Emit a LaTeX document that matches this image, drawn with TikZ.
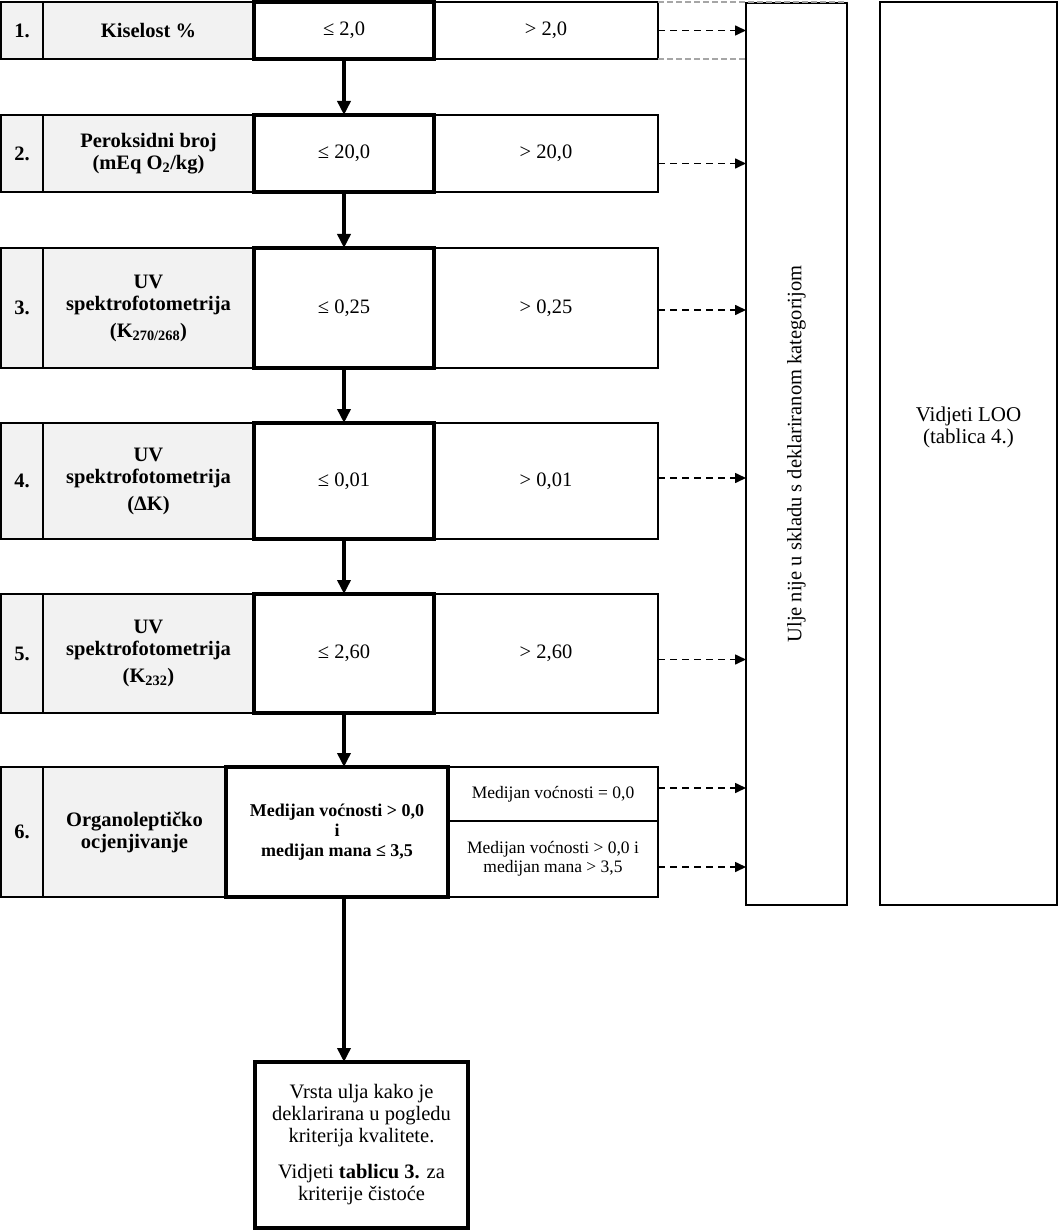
\documentclass[tikz,border=0pt]{standalone}
\usepackage{fontspec}
\setmainfont{Liberation Serif}
\usetikzlibrary{arrows.meta, positioning, calc}
\definecolor{labfill}{HTML}{F2F2F2}

\begin{document}
\begin{tikzpicture}[
  x=1pt, y=-1pt,
  every node/.style={font=\fontsize{20.5}{22}\selectfont, inner sep=0pt,
                     outer sep=0pt, align=center},
  cell/.style={draw, anchor=north west, line width=2pt},
  numbox/.style={cell, fill=labfill, font=\fontsize{20.5}{22}\selectfont\bfseries,
                 minimum width=42pt},
  labbox/.style={cell, fill=labfill, font=\fontsize{20.5}{22}\selectfont\bfseries},
  passbox/.style={cell, line width=4pt},
  failbox/.style={cell},
  smalltxt/.style={font=\fontsize{17.5}{19.5}\selectfont},
  sidebox/.style={draw, anchor=north west, line width=2.5pt},
  downarr/.style={-{Triangle[length=14pt,width=13pt]}, line width=4pt},
  outarr/.style={-{Triangle[length=11pt,width=10pt]}, line width=1.6pt,
                 dash pattern=on 7pt off 5pt},
  tabedge/.style={gray!70, line width=1.5pt, dash pattern=on 6pt off 3pt}
]
\useasboundingbox (0,0) rectangle (1059,1230);

% right-hand outcome boxes
\node[sidebox, minimum width=101pt, minimum height=902pt] (ulje) at (746,3) {};
\node[rotate=90] (uljetxt) at (ulje.center) {Ulje nije u skladu s deklariranom kategorijom};
\node[sidebox, minimum width=177pt, minimum height=903pt] (loo) at (880,2) {};
\node[font=\fontsize{21}{22}\selectfont] (lootxt) at ([yshift=26pt]loo.center) {Vidjeti LOO\\(tablica 4.)};

% 1. kiselost
\node[numbox, minimum height=57pt] (n1) at (1,2) {1.};
\node[labbox, minimum width=211pt, minimum height=57pt] (l1) at (n1.north east) {Kiselost \%};
\node[passbox, minimum width=180pt, minimum height=57pt] (p1) at (l1.north east) {≤ 2,0};
\node[failbox, minimum width=224pt, minimum height=57pt] (f1) at (p1.north east) {> 2,0};

% 2. peroksidni broj
\node[numbox, minimum height=77pt] (n2) at (1,115) {2.};
\node[labbox, minimum width=211pt, minimum height=77pt] (l2) at (n2.north east) {Peroksidni broj\\(mEq O\textsubscript{2}/kg)};
\node[passbox, minimum width=180pt, minimum height=77pt] (p2) at (l2.north east) {≤ 20,0};
\node[failbox, minimum width=224pt, minimum height=77pt] (f2) at (p2.north east) {> 20,0};

% 3. K270
\node[numbox, minimum height=120pt] (n3) at (1,248) {3.};
\node[labbox, minimum width=211pt, minimum height=120pt] (l3) at (n3.north east) {UV\\spektrofotometrija\\[5pt](K\textsubscript{270/268})};
\node[passbox, minimum width=180pt, minimum height=120pt] (p3) at (l3.north east) {≤ 0,25};
\node[failbox, minimum width=224pt, minimum height=120pt] (f3) at (p3.north east) {> 0,25};

% 4. delta K
\node[numbox, minimum height=116pt] (n4) at (1,423) {4.};
\node[labbox, minimum width=211pt, minimum height=116pt] (l4) at (n4.north east) {UV\\spektrofotometrija\\[5pt](ΔK)};
\node[passbox, minimum width=180pt, minimum height=116pt] (p4) at (l4.north east) {≤ 0,01};
\node[failbox, minimum width=224pt, minimum height=116pt] (f4) at (p4.north east) {> 0,01};

% 5. K232
\node[numbox, minimum height=119pt] (n5) at (1,594) {5.};
\node[labbox, minimum width=211pt, minimum height=119pt] (l5) at (n5.north east) {UV\\spektrofotometrija\\[5pt](K\textsubscript{232})};
\node[passbox, minimum width=180pt, minimum height=119pt] (p5) at (l5.north east) {≤ 2,60};
\node[failbox, minimum width=224pt, minimum height=119pt] (f5) at (p5.north east) {> 2,60};

% 6. organolepticko
\node[numbox, minimum height=130pt] (n6) at (1,767) {6.};
\node[labbox, minimum width=183pt, minimum height=130pt] (l6) at (n6.north east) {Organoleptičko\\ocjenjivanje};
\node[passbox, minimum width=222pt, minimum height=130pt,
      font=\fontsize{18}{20}\selectfont\bfseries] (p6) at (l6.north east) {Medijan voćnosti > 0,0\\i\\medijan mana ≤ 3,5};
\node[failbox, smalltxt, minimum width=210pt, minimum height=54pt] (f6a) at (p6.north east) {Medijan voćnosti = 0,0};
\node[failbox, smalltxt, minimum width=210pt, minimum height=76pt] (f6b) at (f6a.south west) {Medijan voćnosti > 0,0 i\\medijan mana > 3,5};

% final
\node[passbox, minimum width=213pt, minimum height=166pt] (fin) at (255,1062) {Vrsta ulja kako je\\deklarirana u pogledu\\kriterija kvalitete.\\[14pt]Vidjeti \textbf{tablicu 3.} za\\kriterije čistoće};

% table edges
\draw[tabedge] (f1.north east) -- (f1.north east -| ulje.east);
\draw[tabedge] (f1.south east) -- (f1.south east -| ulje.west);

% pass arrows
\draw[downarr] (p1.south) -- (p2.north);
\draw[downarr] (p2.south) -- (p3.north);
\draw[downarr] (p3.south) -- (p4.north);
\draw[downarr] (p4.south) -- (p5.north);
\draw[downarr] (p5.south) -- (p5.south |- p6.north);
\draw[downarr] (p6.south -| p5.south) -- (fin.north -| p5.south);

% fail arrows
\draw[outarr] (f1.east) -- (f1.east -| ulje.west);
\draw[outarr] ([yshift=-10pt]f2.east) -- ([yshift=-10pt]f2.east -| ulje.west);
\draw[outarr] ([yshift=-2pt]f3.east) -- ([yshift=-2pt]f3.east -| ulje.west);
\draw[outarr] ([yshift=3pt]f4.east) -- ([yshift=3pt]f4.east -| ulje.west);
\draw[outarr] ([yshift=-6pt]f5.east) -- ([yshift=-6pt]f5.east -| ulje.west);
\draw[outarr] ([yshift=6pt]f6a.east) -- ([yshift=6pt]f6a.east -| ulje.west);
\draw[outarr] ([yshift=-8pt]f6b.east) -- ([yshift=-8pt]f6b.east -| ulje.west);

\end{tikzpicture}
\end{document}
